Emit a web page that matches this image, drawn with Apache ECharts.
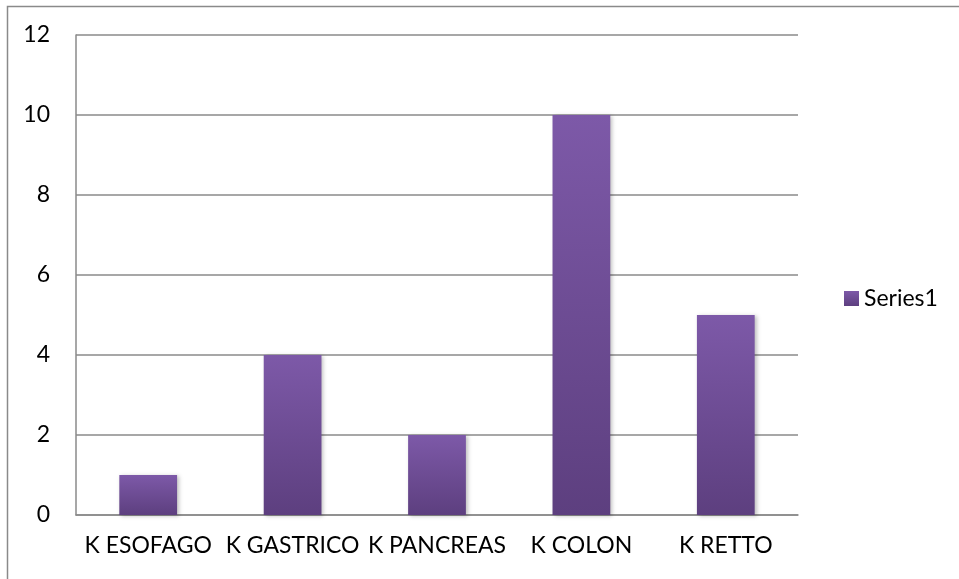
<!DOCTYPE html>
<html>
<head>
<meta charset="utf-8">
<script src="https://cdn.jsdelivr.net/npm/echarts@6/dist/echarts.min.js"></script>
<style>
  html, body { margin: 0; padding: 0; background: #fff; }
  #chart { width: 959px; height: 579px; }
</style>
</head>
<body>
<div id="chart"></div>
<script>
// Tumour site counts
const categories = ['K ESOFAGO', 'K GASTRICO', 'K PANCREAS', 'K COLON', 'K RETTO'];
const series1 = [1, 4, 2, 10, 5];
const seriesName = 'Series1';

const FONT = 'Lato, "Open Sans", sans-serif';

const chart = echarts.init(document.getElementById('chart'), null, { renderer: 'canvas' });

chart.setOption({
  backgroundColor: '#ffffff',
  animation: false,
  graphic: [{
    // outer chart frame, running off the right and bottom edges
    type: 'rect',
    shape: { x: 7.5, y: 6.5, width: 1000, height: 1000 },
    style: { fill: 'none', stroke: '#8a8a8a', lineWidth: 1.5 },
    silent: true
  }],
  legend: {
    data: [seriesName],
    left: 839,
    top: 282,
    icon: 'rect',
    itemWidth: 15,
    itemHeight: 15,
    itemGap: 6,
    textStyle: { fontFamily: FONT, fontSize: 23, color: '#000' }
  },
  grid: {
    left: 76,
    top: 35,
    width: 722,
    height: 480,
    containLabel: false,
    outerBoundsMode: 'none'
  },
  xAxis: {
    type: 'category',
    data: categories,
    axisLine: { show: true, lineStyle: { color: '#8a8a8a', width: 1.5 } },
    axisTick: { show: false },
    axisLabel: { fontFamily: FONT, fontSize: 23, color: '#000', margin: 19, interval: 0 }
  },
  yAxis: {
    type: 'value',
    min: 0,
    max: 12,
    interval: 2,
    axisLine: { show: true, lineStyle: { color: '#8a8a8a', width: 1.5 } },
    axisTick: { show: false },
    axisLabel: { fontFamily: FONT, fontSize: 23, color: '#000', margin: 26 },
    splitLine: { show: true, lineStyle: { color: '#8a8a8a', width: 1.5 } }
  },
  series: [{
    name: seriesName,
    type: 'bar',
    data: series1,
    barWidth: '40%',
    itemStyle: {
      color: new echarts.graphic.LinearGradient(0, 0, 0, 1, [
        { offset: 0, color: '#7d59a8' },
        { offset: 1, color: '#5d3f7f' }
      ]),
      shadowColor: 'rgba(0,0,0,0.25)',
      shadowBlur: 4,
      shadowOffsetX: 2,
      shadowOffsetY: 1
    }
  }]
});
</script>
</body>
</html>
